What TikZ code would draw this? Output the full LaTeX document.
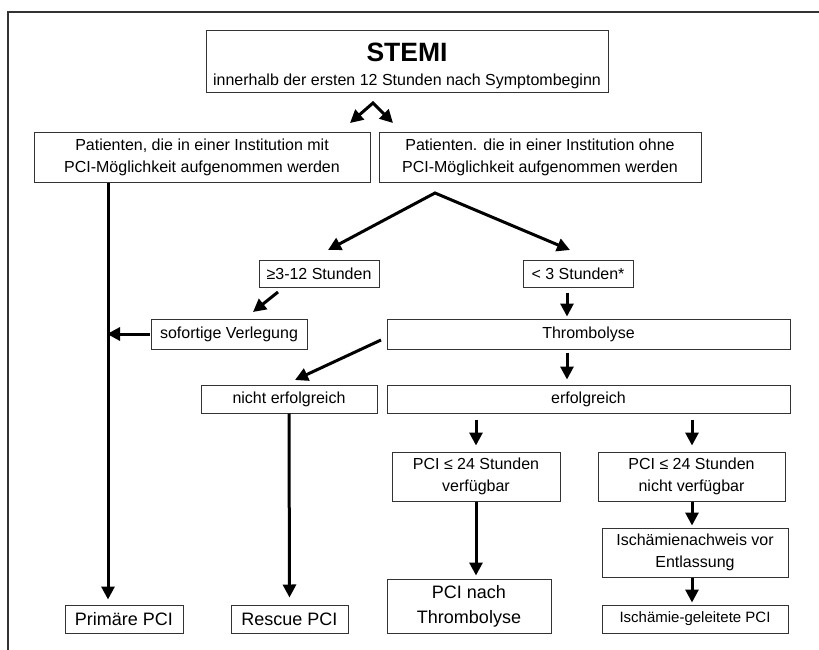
\documentclass[tikz,border=0pt]{standalone}
\usepackage{fontspec}
\setmainfont{Liberation Sans}
\usetikzlibrary{arrows.meta}
\definecolor{boxgray}{HTML}{333333}
\begin{document}
\begin{tikzpicture}[x=1pt,y=-1pt,
  box/.style={draw=boxgray, line width=1pt, inner sep=0pt, align=center,
              font=\fontsize{16}{22}\selectfont},
  bigbox/.style={box, font=\fontsize{18}{25}\selectfont},
  arr/.style={line width=3pt, -{Triangle[length=13pt,width=13pt]}},
  darr/.style={line width=3pt, {Triangle[length=13pt,width=13pt]}-{Triangle[length=13pt,width=13pt]}},
  frame/.style={draw=boxgray, line width=1.6pt}
  ]
\useasboundingbox (0,0) rectangle (819,650);
% partial frame
\coordinate (fa) at (819,12);
\coordinate (fb) at (8,12);
\coordinate (fc) at (8,650);
\draw[frame] (fa) -- (fb) -- (fc);

% nodes
\node[box, minimum width=402pt, minimum height=62pt] (stemi) at (407,62) {};
\node[font=\fontsize{26.5}{28}\selectfont\bfseries, anchor=base, inner sep=0pt] (stemit) at (407,62) {STEMI};
\node[font=\fontsize{16}{20}\selectfont, anchor=base, inner sep=0pt] (stemis) at (407,86) {innerhalb der ersten 12 Stunden nach Symptombeginn};

\node[box, minimum width=336pt, minimum height=49pt] (pmit) at (202,157.5)
  {Patienten, die in einer Institution mit\\PCI-Möglichkeit aufgenommen werden};
\node[box, minimum width=322pt, minimum height=49pt] (pohne) at (540,157.5)
  {Patienten. die in einer Institution ohne\\PCI-Möglichkeit aufgenommen werden};

\node[box, minimum width=120pt, minimum height=27pt] (h312) at (319,273.5) {≥3-12 Stunden};
\node[box, minimum width=110pt, minimum height=27pt] (lt3) at (578,273.5) {< 3 Stunden*};

\node[box, minimum width=156pt, minimum height=30pt] (sof) at (229,334) {sofortige Verlegung};
\node[box, minimum width=403pt, minimum height=30pt] (thr) at (588.5,334) {Thrombolyse};

\node[box, minimum width=176pt, minimum height=28pt] (nicht) at (289,399) {nicht erfolgreich};
\node[box, minimum width=403pt, minimum height=28pt] (erf) at (588.5,399) {erfolgreich};

\node[box, minimum width=168pt, minimum height=49pt] (verf) at (476,476.5) {PCI ≤ 24 Stunden\\verfügbar};
\node[box, minimum width=187pt, minimum height=49pt] (nverf) at (691.5,476.5) {PCI ≤ 24 Stunden\\nicht verfügbar};

\node[box, minimum width=186pt, minimum height=49pt] (isch) at (695,552.5) {Ischämienachweis vor\\Entlassung};

\node[bigbox, minimum width=164pt, minimum height=54pt] (pcinach) at (469,606) {PCI nach\\Thrombolyse};
\node[box, font=\fontsize{15}{20}\selectfont, minimum width=186pt, minimum height=28pt] (gel) at (695,619) {Ischämie-geleitete PCI};
\node[bigbox, minimum width=118pt, minimum height=28pt] (prim) at (124,619) {Primäre PCI};
\node[bigbox, minimum width=117pt, minimum height=28pt] (resc) at (289.5,619) {Rescue PCI};

% helper coordinates for connectors
\coordinate (ap1) at (373,103);
\coordinate (tl1) at (350,123);
\coordinate (tr1) at (393,123);
\coordinate (ap2) at (435,193);
\coordinate (tl2) at (328,250);
\coordinate (tr2) at (570,250);
\coordinate (lx) at (108,0);
\coordinate (s1) at (278,292);
\coordinate (e1) at (253,312);
\coordinate (s2) at (381,340);
\coordinate (e2) at (295,380);
\coordinate (ex) at (567,0);
\coordinate (vx) at (476,0);
\coordinate (nx) at (692,0);

% connectors
\draw[darr] (tl1) -- (ap1) -- (tr1);
\draw[darr] (tl2) -- (ap2) -- (tr2);
\draw[arr, shorten >=5pt] (pmit.south -| lx) -- (prim.north -| lx);
\draw[arr] (s1) -- (e1);
\draw[arr, shorten <=1pt, shorten >=-1pt] (sof.west) -- (sof.west -| lx);
\draw[arr, shorten <=5pt, shorten >=2pt] (lt3.south -| ex) -- (thr.north -| ex);
\draw[arr] (s2) -- (e2);
\draw[arr, shorten <=3pt, shorten >=5pt] (thr.south -| ex) -- (erf.north -| ex);
\draw[arr, shorten >=7pt] (nicht.south) -- (resc.north);
\draw[arr, shorten <=6pt, shorten >=6pt] (erf.south -| vx) -- (verf.north -| vx);
\draw[arr, shorten <=6pt, shorten >=6pt] (erf.south -| nx) -- (nverf.north -| nx);
\draw[arr, shorten >=3pt] (verf.south -| vx) -- (pcinach.north -| vx);
\draw[arr, shorten >=2pt] (nverf.south -| nx) -- (isch.north -| nx);
\draw[arr, shorten >=2pt] (isch.south -| nx) -- (gel.north -| nx);
\end{tikzpicture}
\end{document}
